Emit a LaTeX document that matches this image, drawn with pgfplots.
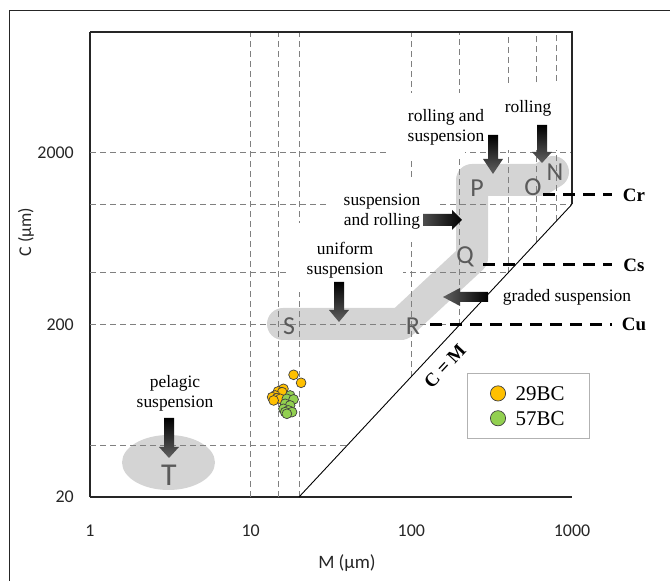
\documentclass[border=0pt]{standalone}
\usepackage{pgfplots}
\pgfplotsset{compat=1.18}
\usepackage{pgfplotstable}
\usepackage{fontspec}
\setmainfont{Liberation Serif}
\newfontfamily\calibri{Carlito}
\definecolor{gridgray}{HTML}{808080}
\definecolor{bandgray}{HTML}{D4D4D4}
\definecolor{lettergray}{HTML}{5A5A5A}
\definecolor{orangept}{HTML}{FFC000}
\definecolor{greenpt}{HTML}{92D050}

\pgfplotstableread{
M C
18.5 102.4
20.6 92.0
16.0 84.9
14.8 82.0
15.7 81.2
14.2 77.7
13.6 76.0
14.6 75.0
15.3 74.3
13.9 72.7
}\dataA
\pgfplotstableread{
M C
17.6 77.7
16.8 74.3
18.5 73.7
16.4 69.5
17.6 68.0
16.0 65.0
17.2 63.6
16.4 62.2
18.1 62.2
16.8 60.8
}\dataB

\newcommand\DArrow[6]{% x, ytop, ytip, shaft half width, head half width, head length
  \shade[top color=black, bottom color=black!62] (#1-#4,#2) -- (#1+#4,#2) -- (#1+#4,#3-#6) -- (#1+#5,#3-#6) -- (#1,#3) -- (#1-#5,#3-#6) -- (#1-#4,#3-#6) -- cycle;}

\begin{document}
\begin{tikzpicture}
\path[use as bounding box] (0bp,0bp) rectangle (670bp,581bp);
\begin{scope}[shift={(0bp,581bp)},x=1bp,y=-1bp]
  \draw[black!85, line width=1bp] (9,590) -- (9,11) -- (680,11);
  \draw[bandgray, line width=32bp, line cap=round, line join=round]
    (283,324) -- (401,324) -- (472,258) -- (472,180) -- (540,180) -- (553,172);
  \fill[bandgray] (168.5,462.5) ellipse [x radius=46.5bp, y radius=27.5bp];
\end{scope}

\begin{axis}[
  at={(90bp,84bp)}, anchor=south west,
  scale only axis, width=482bp, height=465bp,
  xmode=log, ymode=log,
  xmin=1, xmax=1000, ymin=20, ymax=10000,
  axis x line*=bottom, axis y line*=left,
  axis line style={black!85, line width=1.1bp},
  xtick={1,10,100,1000}, xticklabels={1,10,100,1000},
  ytick={20,200,2000}, yticklabels={20,200,2000},
  xminorticks=false, yminorticks=false,
  major tick length=0pt,
  ticklabel style={font=\calibri\fontsize{18}{20}\selectfont, text=black!85},
  xticklabel style={anchor=center, yshift=-34bp},
  yticklabel style={anchor=east, inner sep=0pt, xshift=-16bp},
  clip=false,
  legend style={at={(0.782,0.2667)}, anchor=north west, draw=black!30, line width=1bp,
    fill=white, inner xsep=23bp, inner ysep=11bp, row sep=7bp, column sep=8bp,
    font=\fontsize{21}{23}\selectfont, nodes={inner sep=2bp, text depth=0pt}},
  legend cell align=left,
  legend image code/.code={\draw[#1, mark size=7.6bp] plot coordinates {(0bp,0bp)};},
]
\tikzset{gridline/.style={gridgray, line width=1bp, dash pattern=on 6bp off 4bp}}
\draw[gridline] (axis cs:10,20) -- (axis cs:10,10000);
\draw[gridline] (axis cs:15,20) -- (axis cs:15,10000);
\draw[gridline] (axis cs:20,20) -- (axis cs:20,10000);
\draw[gridline] (axis cs:100,100) -- (axis cs:100,10000);
\draw[gridline] (axis cs:200,200) -- (axis cs:200,10000);
\draw[gridline] (axis cs:400,400) -- (axis cs:400,10000);
\draw[gridline] (axis cs:600,600) -- (axis cs:600,10000);
\draw[gridline] (axis cs:800,800) -- (axis cs:800,10000);
\draw[gridline] (axis cs:1,40) -- (axis cs:40,40);
\draw[gridline] (axis cs:1,200) -- (axis cs:200,200);
\draw[gridline] (axis cs:1,400) -- (axis cs:400,400);
\draw[gridline] (axis cs:1,1000) -- (axis cs:1000,1000);
\draw[gridline] (axis cs:1,2000) -- (axis cs:1000,2000);
\draw[black!85, line width=1.1bp] (axis cs:1,10000) -- (axis cs:1000,10000) -- (axis cs:1000,1000);
\draw[black, line width=0.9bp] (axis cs:20,20) -- (axis cs:1000,1000);

\addplot[only marks, mark=*, mark size=4.9bp, mark options={fill=orangept, draw=black!75, line width=0.7bp}]
  table[x=M, y=C] {\dataA};
\addlegendentry{29BC}
\addplot[only marks, mark=*, mark size=4.9bp, mark options={fill=greenpt, draw=black!75, line width=0.7bp}]
  table[x=M, y=C] {\dataB};
\addlegendentry{57BC}
\end{axis}

\begin{scope}[shift={(0bp,581bp)},x=1bp,y=-1bp]
  % white label backgrounds
  \fill[white] (388,93) rectangle (465,157);
  \fill[white] (497,85) rectangle (568,150);
  \fill[white] (327,177) rectangle (437,242);
  \fill[white] (287,223) rectangle (403,292);
  % thick dashed levels
  \tikzset{thickdash/.style={black, line width=3bp, dash pattern=on 12bp off 8bp}}
  \draw[thickdash] (543,195) -- (612,195);
  \draw[thickdash] (483,265) -- (612,265);
  \draw[thickdash] (430,325) -- (612,325);
  \tikzset{lvl/.style={font=\bfseries\fontsize{19}{21}\selectfont, inner sep=0pt}}
  \node[lvl] at (634,195) {Cr};
  \node[lvl] at (634,265) {Cs};
  \node[lvl] at (634,324) {Cu};
  % text labels
  \tikzset{lab/.style={font=\fontsize{17.5}{20}\selectfont, align=center, inner sep=0pt}}
  \node[lab] at (528,108) {rolling};
  \node[lab] at (446,127) {rolling and\\suspension};
  \node[lab] at (382,212) {suspension\\and rolling};
  \node[lab] at (345,260) {uniform\\suspension};
  \node[lab] at (567,297) {graded suspension};
  \node[lab] at (175,393) {pelagic\\suspension};
  % arrows
  \DArrow{542}{125}{163}{5}{10}{11}
  \DArrow{493}{135}{174}{5}{10}{15}
  \DArrow{339}{282}{322}{5}{10}{12}
  \DArrow{169}{418}{458}{5}{10}{11}
  \shade[left color=black!70, right color=black] (423,214) -- (452,214) -- (452,210) -- (462,220) -- (452,230) -- (452,226) -- (423,226) -- cycle;
  \shade[left color=black!62, right color=black] (488,292) -- (460,292) -- (460,288) -- (443,297) -- (460,306) -- (460,302) -- (488,302) -- cycle;
  % letters
  \tikzset{let/.style={font=\calibri\fontsize{26}{28}\selectfont, text=lettergray, inner sep=0pt}}
  \node[let] at (289,326) {S};
  \node[let] at (413,326) {R};
  \node[let] at (465,257) {Q};
  \node[let] at (477,188) {P};
  \node[let] at (533,187) {O};
  \node[let] at (555,172) {N};
  \node[let, font=\calibri\fontsize{32}{34}\selectfont] at (169,475) {T};
  % C = M
  \node[rotate=47, font=\bfseries\fontsize{19}{21}\selectfont, inner sep=0pt] at (445,366) {C = M};
  % axis labels
  \node[font=\calibri\fontsize{19}{22}\selectfont, text=black!85] at (347,563) {M (μm)};
  \node[rotate=90, font=\calibri\fontsize{18}{22}\selectfont, text=black!85] at (26,232) {C (μm)};
\end{scope}
\end{tikzpicture}
\end{document}
